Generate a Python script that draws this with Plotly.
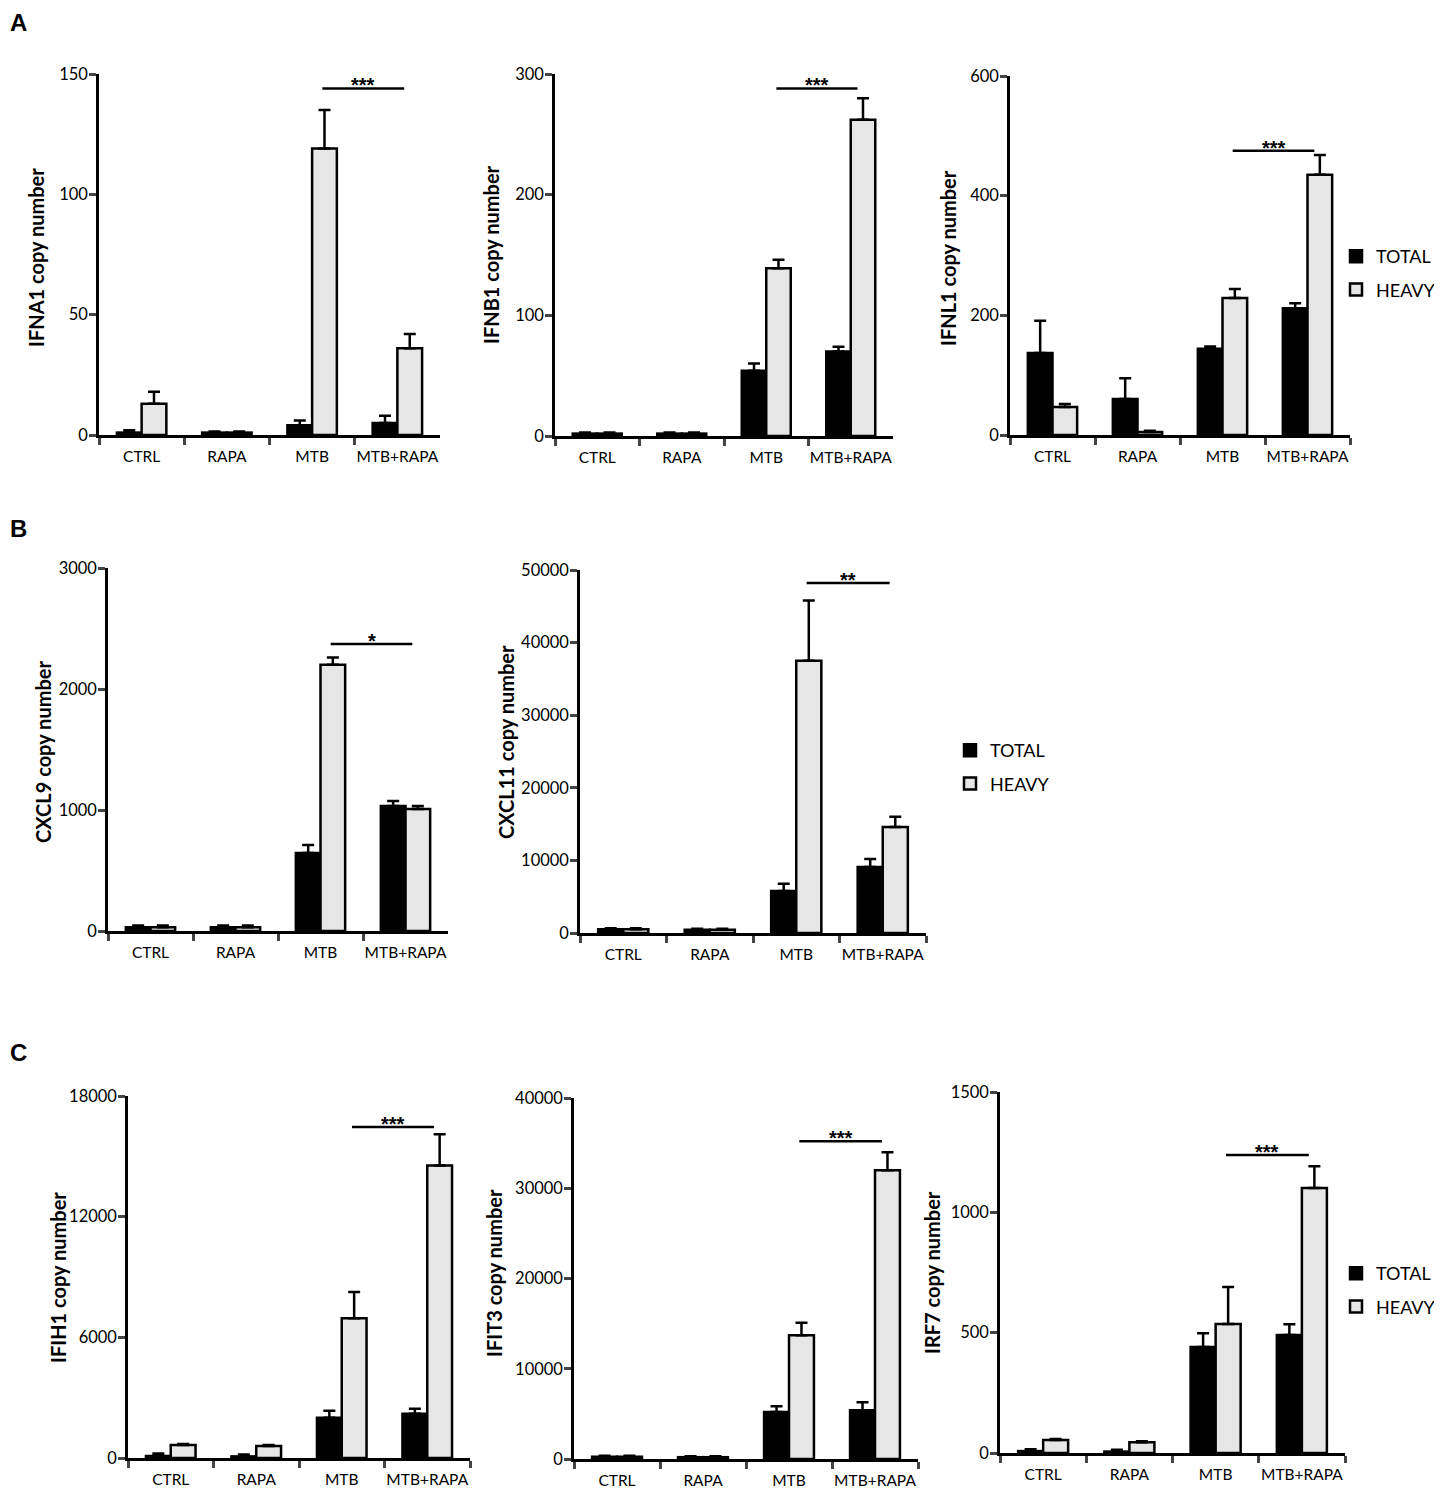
import plotly.graph_objects as go

# --------------------------------------------------------------------------------
# Data (copy numbers, error = upper SD bar)
categories = ["CTRL", "RAPA", "MTB", "MTB+RAPA"]

ifna1_total = [1, 1, 4, 5]
ifna1_total_err = [1, 0.5, 2, 3]
ifna1_heavy = [13, 1, 119, 36]
ifna1_heavy_err = [5, 0.5, 16, 6]

ifnb1_total = [2, 2, 54, 70]
ifnb1_total_err = [1, 1, 6, 4]
ifnb1_heavy = [2, 2, 139, 262]
ifnb1_heavy_err = [1, 1, 7, 18]

ifnl1_total = [137, 60, 144, 212]
ifnl1_total_err = [54, 35, 4, 8]
ifnl1_heavy = [47, 5, 229, 435]
ifnl1_heavy_err = [5, 2, 15, 33]

cxcl9_total = [30, 30, 645, 1033]
cxcl9_total_err = [15, 15, 66, 41]
cxcl9_heavy = [30, 30, 2200, 1008]
cxcl9_heavy_err = [15, 15, 60, 25]

cxcl11_total = [500, 450, 5800, 9100]
cxcl11_total_err = [150, 150, 1000, 1100]
cxcl11_heavy = [500, 450, 37500, 14600]
cxcl11_heavy_err = [150, 150, 8300, 1400]

ifih1_total = [100, 80, 2000, 2200]
ifih1_total_err = [120, 100, 350, 250]
ifih1_heavy = [650, 600, 6950, 14550]
ifih1_heavy_err = [50, 50, 1300, 1550]

ifit3_total = [250, 200, 5200, 5400]
ifit3_total_err = [100, 100, 650, 900]
ifit3_heavy = [250, 200, 13700, 32000]
ifit3_heavy_err = [100, 100, 1400, 2000]

irf7_total = [8, 6, 440, 490]
irf7_total_err = [8, 8, 58, 45]
irf7_heavy = [54, 45, 536, 1101]
irf7_heavy_err = [4, 4, 154, 91]

# significance stars and bracket level
sig_text = ["***", "***", "***", "*", "**", "***", "***", "***"]
sig_level = [144, 288, 475, 2372, 48200, 16460, 35200, 1238]

# --------------------------------------------------------------------------------
# Layout helpers (pixel positions, page is shown with an 8px body margin)
W, H = 1442, 1493
OFF = 8


def px_x(v):
    return (v - OFF) / W


def px_y(v):
    return 1 - (v - OFF) / H


# box = (x0, x1, ytop, yzero), title = (x, y) centre of the y title
panels = [
    dict(name="IFNA1", total=(ifna1_total, ifna1_total_err), heavy=(ifna1_heavy, ifna1_heavy_err),
         ymax=150, dtick=50, box=(99, 440, 74, 435), title=(36, 258), legend="legend"),
    dict(name="IFNB1", total=(ifnb1_total, ifnb1_total_err), heavy=(ifnb1_heavy, ifnb1_heavy_err),
         ymax=300, dtick=100, box=(555, 893, 74, 436), title=(491, 255), legend=None),
    dict(name="IFNL1", total=(ifnl1_total, ifnl1_total_err), heavy=(ifnl1_heavy, ifnl1_heavy_err),
         ymax=600, dtick=200, box=(1010, 1350, 76, 435), title=(948, 258), legend=None),
    dict(name="CXCL9", total=(cxcl9_total, cxcl9_total_err), heavy=(cxcl9_heavy, cxcl9_heavy_err),
         ymax=3000, dtick=1000, box=(108, 448, 568, 931), title=(43, 752), legend="legend2"),
    dict(name="CXCL11", total=(cxcl11_total, cxcl11_total_err), heavy=(cxcl11_heavy, cxcl11_heavy_err),
         ymax=50000, dtick=10000, box=(580, 926, 570, 933), title=(506, 742), legend=None),
    dict(name="IFIH1", total=(ifih1_total, ifih1_total_err), heavy=(ifih1_heavy, ifih1_heavy_err),
         ymax=18000, dtick=6000, box=(128, 470, 1096, 1458), title=(58, 1278), legend="legend3"),
    dict(name="IFIT3", total=(ifit3_total, ifit3_total_err), heavy=(ifit3_heavy, ifit3_heavy_err),
         ymax=40000, dtick=10000, box=(574, 918, 1098, 1459), title=(494, 1273), legend=None),
    dict(name="IRF7", total=(irf7_total, irf7_total_err), heavy=(irf7_heavy, irf7_heavy_err),
         ymax=1500, dtick=500, box=(1000, 1345, 1092, 1453), title=(932, 1273), legend=None),
]

xtick_font = dict(family="Lato, Open Sans, sans-serif", size=15.5, color="black")
ytick_font = dict(family="Lato, Open Sans, sans-serif", size=16.5, color="black")
title_font = dict(family="Lato, Open Sans, sans-serif", size=20, color="black")
legend_font = dict(family="Lato, Open Sans, sans-serif", size=18, color="black")

fig = go.Figure()
layout = dict(
    width=W, height=H, autosize=False,
    margin=dict(l=0, r=0, t=0, b=0, pad=0),
    paper_bgcolor="white", plot_bgcolor="white",
    barmode="group", bargap=0.42, bargroupgap=0,
    annotations=[], shapes=[],
)

for i, p in enumerate(panels):
    n = "" if i == 0 else str(i + 1)
    xa, ya = "x" + n, "y" + n
    x0, x1, ytop, yzero = p["box"]
    show = p["legend"] is not None
    for label, (vals, errs), fill in [("TOTAL", p["total"], "black"), ("HEAVY", p["heavy"], "#e6e6e6")]:
        fig.add_trace(go.Bar(
            x=categories, y=vals, name=label, legendgroup=label,
            xaxis=xa, yaxis=ya,
            marker=dict(color=fill, line=dict(color="black", width=2.5)),
            error_y=dict(type="data", array=errs, arrayminus=[0] * len(errs), symmetric=False,
                         color="black", thickness=2.5, width=6),
            showlegend=show, legend=p["legend"] if show else "legend",
        ))
    layout["xaxis" + n] = dict(
        domain=[px_x(x0), px_x(x1)], anchor=ya, automargin=False,
        type="category", tickson="boundaries", ticks="outside", ticklen=7, tickwidth=2.5,
        tickangle=0, ticklabelstandoff=6, showline=True, linecolor="black", linewidth=2.5,
        tickfont=xtick_font, showgrid=False, zeroline=False, fixedrange=True,
    )
    layout["yaxis" + n] = dict(
        domain=[px_y(yzero), px_y(ytop)], anchor=xa, automargin=False,
        range=[0, p["ymax"]], tick0=0, dtick=p["dtick"], tickformat="d",
        ticks="outside", ticklen=7, tickwidth=2.5, ticklabelstandoff=-2,
        showline=True, linecolor="black", linewidth=2.5,
        tickfont=ytick_font, showgrid=False, zeroline=False, fixedrange=True,
    )
    # y axis title
    layout["annotations"].append(dict(
        text="<b>%s copy number</b>" % p["name"], textangle=-90,
        x=px_x(p["title"][0]), y=px_y(p["title"][1]), xref="paper", yref="paper",
        xanchor="center", yanchor="middle", showarrow=False, font=title_font,
    ))
    # significance bracket between MTB and MTB+RAPA
    layout["shapes"].append(dict(
        type="line", xref=xa, yref=ya, x0=2.12, x1=3.08,
        y0=sig_level[i], y1=sig_level[i], line=dict(color="black", width=2.5),
    ))
    layout["annotations"].append(dict(
        text="<b>%s</b>" % sig_text[i], x=2.6, y=sig_level[i], xref=xa, yref=ya,
        yanchor="bottom", yshift=-10, showarrow=False,
        font=dict(family="Arial, Liberation Sans, sans-serif", size=20, color="black"),
    ))

# panel letters
for letter, ypx in [("A", 22), ("B", 528), ("C", 1052)]:
    layout["annotations"].append(dict(
        text="<b>%s</b>" % letter, x=0, y=px_y(ypx), xref="paper", yref="paper",
        xanchor="left", yanchor="middle", showarrow=False,
        font=dict(family="Arial, Liberation Sans, sans-serif", size=24, color="black"),
    ))

legend_style = dict(font=legend_font, bgcolor="rgba(0,0,0,0)", xanchor="left", yanchor="top",
                    traceorder="grouped", tracegroupgap=7, itemwidth=30, borderwidth=0)
layout["legend"] = dict(x=px_x(1336), y=px_y(238), **legend_style)
layout["legend2"] = dict(x=px_x(950), y=px_y(732), **legend_style)
layout["legend3"] = dict(x=px_x(1336), y=px_y(1255), **legend_style)

fig.update_layout(**layout)
fig.write_html("out.html")
